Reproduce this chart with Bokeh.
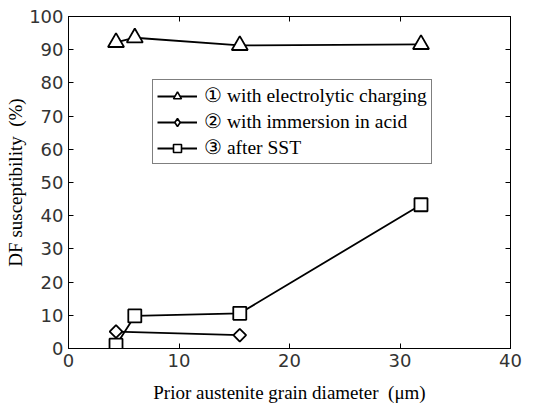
import math
from bokeh.plotting import figure
from bokeh.models import LinearAxis, FixedTicker, Legend, LegendItem, Range1d
from bokeh.embed import file_html
from bokeh.resources import INLINE

# Data
x_charging = [4.3, 6.0, 15.5, 31.9]
y_charging = [92.2, 93.6, 91.3, 91.6]
x_acid = [4.3, 15.5]
y_acid = [5.1, 4.0]
x_sst = [4.3, 6.0, 15.5, 31.9]
y_sst = [1.0, 9.8, 10.6, 43.3]

labels = ["\u2460 with electrolytic charging", "\u2461 with immersion in acid", "\u2462 after SST"]
x_ticks = [0, 10, 20, 30, 40]
y_ticks = [0, 10, 20, 30, 40, 50, 60, 70, 80, 90, 100]

TICK_FONT = "DejaVu Sans"
SERIF = "Liberation Serif"

p = figure(width=547, height=406, output_backend="svg", toolbar_location=None,
           x_range=Range1d(0, 40), y_range=Range1d(0, 100),
           min_border_left=68, min_border_right=37, min_border_top=16, min_border_bottom=58)
p.background_fill_color = "white"
p.border_fill_color = "white"
p.outline_line_color = "black"
p.outline_line_width = 1
p.grid.visible = False

for ax in p.xaxis + p.yaxis:
    ax.major_tick_in = 5
    ax.major_tick_out = 0
    ax.minor_tick_in = 0
    ax.minor_tick_out = 0
    ax.axis_line_color = "black"
    ax.major_tick_line_color = "black"
    ax.major_label_text_font = TICK_FONT
    ax.major_label_text_font_size = "18px"
    ax.major_label_text_color = "#333333"
    ax.axis_label_text_font = SERIF
    ax.axis_label_text_font_style = "normal"
    ax.axis_label_text_font_size = "19px"
    ax.axis_label_text_color = "black"
    ax.major_label_standoff = 5

p.xaxis.ticker = FixedTicker(ticks=x_ticks)
p.yaxis.ticker = FixedTicker(ticks=y_ticks)
p.xaxis.axis_label = "Prior austenite grain diameter\u2002(\u03bcm)"
p.yaxis.axis_label = "DF susceptibility\u2002(%)"
p.xaxis.axis_label_standoff = 12
p.yaxis.axis_label_standoff = 0

# mirrored ticks
for side, ticks in (("right", y_ticks), ("above", x_ticks)):
    ax = LinearAxis(ticker=FixedTicker(ticks=ticks))
    ax.major_tick_in = 5
    ax.major_tick_out = 0
    ax.minor_tick_in = 0
    ax.minor_tick_out = 0
    ax.major_label_text_font_size = "0px"
    ax.major_label_text_color = None
    ax.major_label_standoff = 0
    ax.axis_line_color = "black"
    p.add_layout(ax, side)

lw = 1.8
# small markers used for the legend (hidden under the big ones)
l1 = p.scatter(x_charging[:1], y_charging[:1], marker="triangle", size=11, fill_color="white",
               line_color="black", line_width=1.6)
l2 = p.scatter(x_acid[:1], y_acid[:1], marker="diamond", size=11, fill_color="white",
               line_color="black", line_width=1.6)
l3 = p.scatter(x_sst[:1], y_sst[:1], marker="square", size=9, fill_color="white",
               line_color="black", line_width=1.6)

r1l = p.line(x_charging, y_charging, line_color="black", line_width=lw)
r2l = p.line(x_acid, y_acid, line_color="black", line_width=lw)
r3l = p.line(x_sst, y_sst, line_color="black", line_width=lw)
r1m = p.scatter(x_charging, y_charging, marker="triangle", size=16, fill_color="white",
                line_color="black", line_width=1.8)
r2m = p.scatter(x_acid, y_acid, marker="square", angle=math.pi / 4, size=9, fill_color="white",
                line_color="black", line_width=1.8)
r3m = p.scatter(x_sst, y_sst, marker="square", size=13, fill_color="white",
                line_color="black", line_width=1.8)

legend = Legend(items=[
    LegendItem(label=labels[0], renderers=[r1l, l1]),
    LegendItem(label=labels[1], renderers=[r2l, l2]),
    LegendItem(label=labels[2], renderers=[r3l, l3]),
], location=(84, 184))
legend.border_line_color = "black"
legend.border_line_width = 1
legend.background_fill_alpha = 1
legend.label_text_font = SERIF
legend.label_text_font_size = "19.5px"
legend.label_text_color = "black"
legend.glyph_width = 40
legend.glyph_height = 20
legend.label_height = 20
legend.spacing = 3
legend.padding = 4
legend.margin = 0
legend.label_standoff = 7
p.add_layout(legend, "center")

open("out.html", "w").write(file_html(p, INLINE))
